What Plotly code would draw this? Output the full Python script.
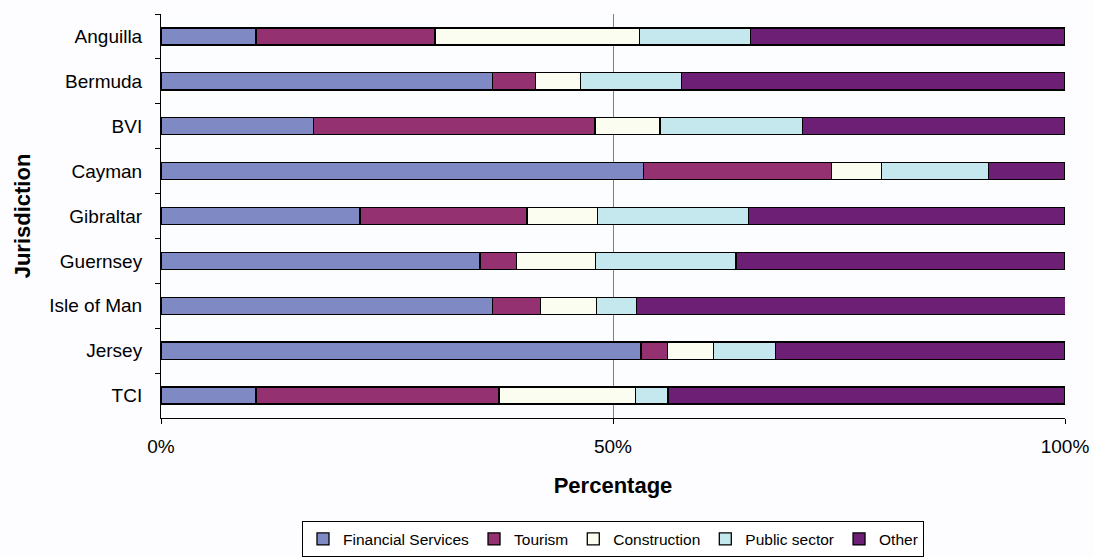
import plotly.graph_objects as go

# Share of GDP by sector for each jurisdiction (percent)
jurisdictions = ["Anguilla", "Bermuda", "BVI", "Cayman", "Gibraltar",
                 "Guernsey", "Isle of Man", "Jersey", "TCI"]
financial_services = [10.5, 36.7, 16.9, 53.4, 22.0, 35.3, 36.7, 53.1, 10.5]
tourism = [19.8, 4.7, 31.1, 20.8, 18.5, 4.0, 5.3, 2.9, 26.9]
construction = [22.6, 5.0, 7.2, 5.5, 7.8, 8.8, 6.2, 5.1, 15.1]
public_sector = [12.3, 11.2, 15.8, 11.8, 16.7, 15.5, 4.4, 6.9, 3.6]
other = [34.8, 42.4, 29.0, 8.5, 35.0, 36.4, 47.5, 32.0, 43.9]

x_tick_vals = [0, 50, 100]
x_tick_text = ["0%", "50%", "100%"]

series = [
    ("Financial Services", financial_services, "#7F8AC5"),
    ("Tourism", tourism, "#943171"),
    ("Construction", construction, "#FBFDF0"),
    ("Public sector", public_sector, "#C4E8EE"),
    ("Other", other, "#6C1F74"),
]

fig = go.Figure()
for name, vals, color in series:
    fig.add_trace(go.Bar(
        y=jurisdictions, x=vals, name=name, orientation="h",
        marker=dict(color=color, line=dict(color="#000000", width=1.3)),
    ))

font_family = "Liberation Sans, Arial, sans-serif"

fig.update_layout(
    barmode="stack",
    bargap=0.62,
    width=1094, height=557,
    margin=dict(l=161, r=29, t=14, b=139, autoexpand=False),
    paper_bgcolor="#FDFDFF",
    plot_bgcolor="#FCFDFF",
    font=dict(family=font_family, size=19, color="#000000"),
    showlegend=True,
    legend=dict(
        orientation="h", x=0.5, xanchor="center",
        yref="container", y=0.064, yanchor="top",
        bordercolor="#000000", borderwidth=1, bgcolor="#FFFFFF",
        font=dict(size=15.5), itemwidth=30, traceorder="normal",
    ),
    xaxis=dict(
        range=[0, 100], tickvals=x_tick_vals, ticktext=x_tick_text,
        showgrid=True, gridcolor="#808080", gridwidth=1,
        showline=True, linecolor="#000000", linewidth=1,
        ticks="outside", ticklen=5, tickcolor="#000000",
        ticklabelstandoff=6, zeroline=False, automargin=False,
        title=dict(text="<b>Percentage</b>", standoff=21,
                   font=dict(size=22)),
        fixedrange=True,
    ),
    yaxis=dict(
        categoryorder="array", categoryarray=jurisdictions,
        autorange="reversed", automargin=False,
        showline=True, linecolor="#000000", linewidth=1,
        ticks="outside", ticklen=5, tickcolor="#000000",
        tickson="boundaries", showgrid=False,
        ticklabelstandoff=14,
        title=dict(text="<b>Jurisdiction</b>", standoff=12,
                   font=dict(size=22)),
        fixedrange=True,
    ),
)

fig.write_html("out.html")
